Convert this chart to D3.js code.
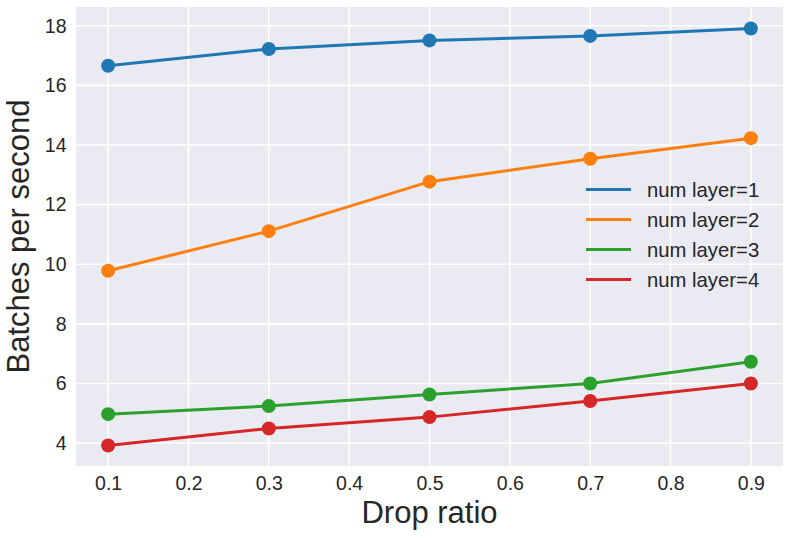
<!DOCTYPE html>
<html>
<head>
<meta charset="utf-8">
<script src="https://cdn.jsdelivr.net/npm/d3@7"></script>
<style>
  body { margin: 0; background: #fff; }
  text { font-family: "Liberation Sans", Arial, sans-serif; fill: #262626; }
</style>
</head>
<body>
<div id="chart"></div>
<script>
const dropRatio = [0.1, 0.3, 0.5, 0.7, 0.9];
const layer1 = [16.66, 17.22, 17.51, 17.66, 17.91];
const layer2 = [9.78, 11.11, 12.77, 13.54, 14.23];
const layer3 = [4.97, 5.24, 5.63, 6.0, 6.73];
const layer4 = [3.92, 4.49, 4.87, 5.41, 6.0];
const seriesNames = ["num layer=1", "num layer=2", "num layer=3", "num layer=4"];
const colors = ["#1f77b4", "#ff7f0e", "#2ca02c", "#d62728"];
const xTicks = [0.1, 0.2, 0.3, 0.4, 0.5, 0.6, 0.7, 0.8, 0.9];
const yTicks = [4, 6, 8, 10, 12, 14, 16, 18];

const w = 790, h = 538;
const plotLeft = 76, plotRight = 783, plotTop = 7, plotBottom = 466;

const series = [layer1, layer2, layer3, layer4].map((vals, i) => ({
  name: seriesNames[i],
  color: colors[i],
  points: vals.map((v, j) => ({ x: dropRatio[j], y: v }))
}));

const xScale = d3.scaleLinear().domain([0.06, 0.94]).range([plotLeft, plotRight]);
const yScale = d3.scaleLinear().domain([3.23, 18.63]).range([plotBottom, plotTop]);

const svg = d3.select("#chart").append("svg")
  .attr("width", w)
  .attr("height", h);

svg.append("rect")
  .attr("x", plotLeft).attr("y", plotTop)
  .attr("width", plotRight - plotLeft).attr("height", plotBottom - plotTop)
  .attr("fill", "#eaeaf2");

// grid
svg.append("g")
  .selectAll("line")
  .data(xTicks)
  .enter()
  .append("line")
  .attr("x1", d => xScale(d)).attr("x2", d => xScale(d))
  .attr("y1", plotTop).attr("y2", plotBottom)
  .attr("stroke", "#fff").attr("stroke-width", 1.6);

svg.append("g")
  .selectAll("line")
  .data(yTicks)
  .enter()
  .append("line")
  .attr("x1", plotLeft).attr("x2", plotRight)
  .attr("y1", d => yScale(d)).attr("y2", d => yScale(d))
  .attr("stroke", "#fff").attr("stroke-width", 1.6);

// axes (labels only, seaborn style)
const xAxis = svg.append("g")
  .attr("transform", `translate(0,${plotBottom})`)
  .call(d3.axisBottom(xScale).tickValues(xTicks).tickFormat(d3.format(".1f")).tickSize(0).tickPadding(10));
const yAxis = svg.append("g")
  .attr("transform", `translate(${plotLeft},0)`)
  .call(d3.axisLeft(yScale).tickValues(yTicks).tickSize(0).tickPadding(9.5));
[xAxis, yAxis].forEach(a => {
  a.select(".domain").remove();
  a.selectAll("text").attr("font-size", 19.5).style("font-family", "Liberation Sans, Arial, sans-serif").attr("fill", "#262626");
});

// lines + markers
const line = d3.line().x(d => xScale(d.x)).y(d => yScale(d.y));
series.forEach(s => {
  svg.append("path")
    .datum(s.points)
    .attr("d", line)
    .attr("fill", "none")
    .attr("stroke", s.color)
    .attr("stroke-width", 3);
  svg.append("g")
    .selectAll("circle")
    .data(s.points)
    .enter()
    .append("circle")
    .attr("cx", d => xScale(d.x))
    .attr("cy", d => yScale(d.y))
    .attr("r", 7)
    .attr("fill", s.color);
});

// legend
const legend = svg.append("g").attr("transform", "translate(586,189.5)");
series.forEach((s, i) => {
  legend.append("line")
    .attr("x1", 0).attr("x2", 45)
    .attr("y1", i * 30).attr("y2", i * 30)
    .attr("stroke", s.color).attr("stroke-width", 3);
  legend.append("text")
    .attr("x", 61).attr("y", i * 30)
    .attr("dy", "0.36em")
    .attr("font-size", 20.3)
    .text(s.name);
});

// axis titles
svg.append("text")
  .attr("x", (plotLeft + plotRight) / 2).attr("y", 523)
  .attr("text-anchor", "middle")
  .attr("font-size", 31)
  .text("Drop ratio");

svg.append("text")
  .attr("transform", `translate(29,${(plotTop + plotBottom) / 2}) rotate(-90)`)
  .attr("text-anchor", "middle")
  .attr("font-size", 31)
  .text("Batches per second");
</script>
</body>
</html>
